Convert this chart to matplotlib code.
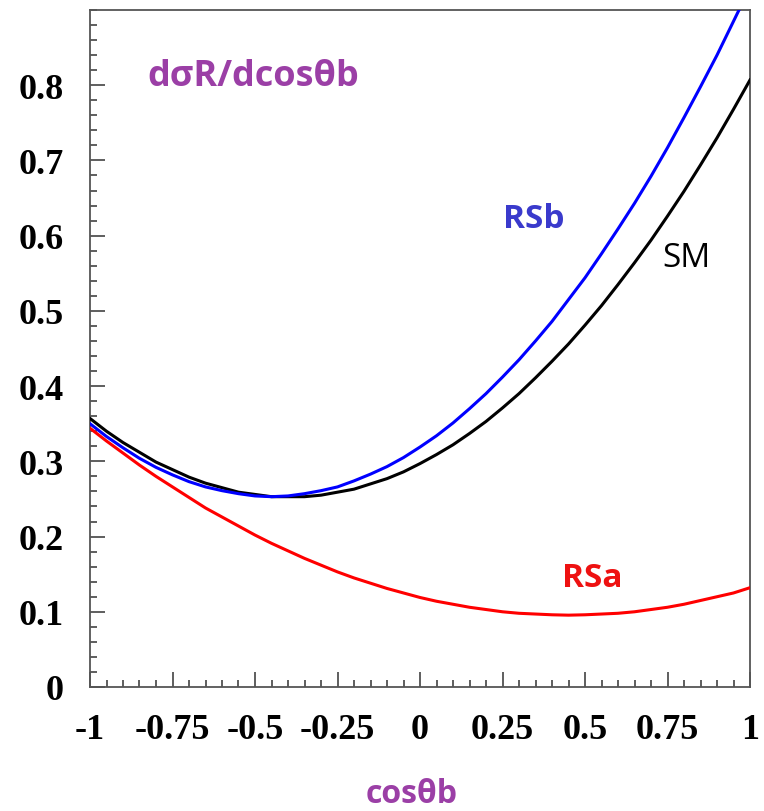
import matplotlib
matplotlib.use("Agg")
import matplotlib.pyplot as plt
from matplotlib.ticker import MultipleLocator, FixedLocator, FixedFormatter

plt.rcParams['axes.unicode_minus'] = False

# cos(theta_b) sample points (step 0.05)
cos_theta = [-1.00, -0.95, -0.90, -0.85, -0.80, -0.75, -0.70, -0.65, -0.60, -0.55,
             -0.50, -0.45, -0.40, -0.35, -0.30, -0.25, -0.20, -0.15, -0.10, -0.05,
             0.00, 0.05, 0.10, 0.15, 0.20, 0.25, 0.30, 0.35, 0.40, 0.45,
             0.50, 0.55, 0.60, 0.65, 0.70, 0.75, 0.80, 0.85, 0.90, 0.95, 1.00]

sm = [0.357, 0.340, 0.325, 0.312, 0.299, 0.289, 0.279, 0.271, 0.265, 0.259,
      0.256, 0.253, 0.253, 0.253, 0.255, 0.259, 0.263, 0.270, 0.277, 0.286,
      0.297, 0.309, 0.322, 0.337, 0.353, 0.371, 0.390, 0.411, 0.433, 0.456,
      0.481, 0.507, 0.535, 0.564, 0.594, 0.626, 0.659, 0.694, 0.730, 0.768, 0.807]

rsb = [0.350, 0.333, 0.318, 0.304, 0.292, 0.282, 0.273, 0.266, 0.261, 0.257,
       0.254, 0.253, 0.254, 0.257, 0.261, 0.266, 0.274, 0.283, 0.293, 0.305,
       0.319, 0.334, 0.351, 0.370, 0.390, 0.412, 0.435, 0.460, 0.486, 0.515,
       0.544, 0.576, 0.609, 0.643, 0.679, 0.717, 0.757, 0.798, 0.840, 0.885, 0.930]

rsa = [0.344, 0.327, 0.311, 0.295, 0.280, 0.266, 0.252, 0.238, 0.226, 0.214,
       0.202, 0.191, 0.181, 0.171, 0.162, 0.153, 0.145, 0.138, 0.131, 0.125,
       0.119, 0.114, 0.110, 0.106, 0.103, 0.100, 0.098, 0.097, 0.096, 0.0955,
       0.096, 0.097, 0.098, 0.100, 0.103, 0.106, 0.110, 0.115, 0.120, 0.125, 0.132]

x_ticks = [-1, -0.75, -0.5, -0.25, 0, 0.25, 0.5, 0.75, 1]
x_tick_labels = ["-1", "-0.75", "-0.5", "-0.25", "0", "0.25", "0.5", "0.75", "1"]
y_ticks = [0, 0.1, 0.2, 0.3, 0.4, 0.5, 0.6, 0.7, 0.8]
y_tick_labels = ["0", "0.1", "0.2", "0.3", "0.4", "0.5", "0.6", "0.7", "0.8"]

purple = "#9b3fa6"

fig = plt.figure(figsize=(7.64, 8.12), dpi=100)
ax = fig.add_axes([90/764, 1-688/812, (750-90)/764, (688-11)/812])

ax.plot(cos_theta, rsa, color="#ff0000", lw=2.2, zorder=3)
ax.plot(cos_theta, sm, color="#000000", lw=2.2, zorder=4)
ax.plot(cos_theta, rsb, color="#0000ff", lw=2.2, zorder=5)

ax.set_xlim(-1, 1)
ax.set_ylim(0, 0.9)

ax.xaxis.set_major_locator(FixedLocator(x_ticks))
ax.xaxis.set_major_formatter(FixedFormatter(x_tick_labels))
ax.yaxis.set_major_locator(FixedLocator(y_ticks))
ax.yaxis.set_major_formatter(FixedFormatter(y_tick_labels))
ax.xaxis.set_minor_locator(MultipleLocator(0.05))
ax.yaxis.set_minor_locator(MultipleLocator(0.02))

ax.tick_params(which="both", direction="in", top=False, right=False,
               color="#333333", width=1.1)
ax.tick_params(which="major", length=11, pad=19)
ax.tick_params(which="minor", length=5)
for lab in ax.get_xticklabels() + ax.get_yticklabels():
    lab.set_fontfamily("Liberation Serif")
    lab.set_fontweight("bold")
    lab.set_fontsize(26)

for sp in ax.spines.values():
    sp.set_color("#555555")
    sp.set_linewidth(1.3)

# annotations
ax.text(-0.825, 0.812, "dσR/dcosθb", color=purple, fontsize=26,
        fontweight="bold", family="Open Sans", ha="left", va="center")
ax.text(0.250, 0.623, "RSb", color="#3a3acc", fontsize=24,
        fontweight="bold", family="Open Sans", ha="left", va="center")
ax.text(0.735, 0.571, "SM", color="#000000", fontsize=24,
        family="Open Sans", ha="left", va="center")
ax.text(0.430, 0.145, "RSa", color="#ee1111", fontsize=24,
        fontweight="bold", family="Open Sans", ha="left", va="center")

fig.text(412/764, 1-795/812, "cosθb", color=purple, fontsize=23,
         fontweight="bold", family="Open Sans", ha="center", va="center")

fig.savefig("out.png", dpi=100, facecolor="white")
